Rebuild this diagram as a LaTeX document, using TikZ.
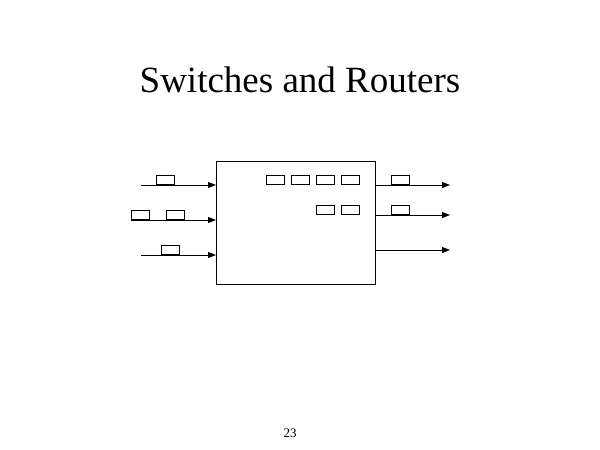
\documentclass[tikz,border=0pt]{standalone}
\usepackage{fontspec}
\setmainfont{Liberation Serif}
\usetikzlibrary{arrows.meta}
\begin{document}
\begin{tikzpicture}[x=1pt,y=-1pt,
  pkt/.style={draw,line width=1pt,minimum width=18pt,minimum height=9pt,inner sep=0pt,anchor=south west},
  link/.style={line width=1pt,-{Triangle[length=8pt,width=6pt]}},
  plain/.style={line width=1pt}]
\useasboundingbox (0,0) rectangle (600,450);
\node[font=\fontsize{37}{44}\selectfont,anchor=base] (title) at (300,92) {Switches and Routers};
\node[font=\fontsize{13}{15}\selectfont,anchor=base] (pnum) at (290,437) {23};
\node[draw,line width=1pt,minimum width=159pt,minimum height=123pt,inner sep=0pt,anchor=north west] (box) at (216,161) {};
% inputs
\coordinate (i1) at (141,185);
\coordinate (i2) at (131,220);
\coordinate (i3) at (141,255);
\draw[link] (i1) -- (i1 -| box.west);
\draw[link] (i2) -- (i2 -| box.west);
\draw[link] (i3) -- (i3 -| box.west);
\node[pkt] (p1) at (156,185) {};
\node[pkt] (p2) at (131,220) {};
\node[pkt] (p3) at (166,220) {};
\node[pkt] (p4) at (161,255) {};
% queued in switch
\node[pkt] (q1) at (266,185) {};
\node[pkt] (q2) at (291,185) {};
\node[pkt] (q3) at (316,185) {};
\node[pkt] (q4) at (341,185) {};
\node[pkt] (q5) at (316,215) {};
\node[pkt] (q6) at (341,215) {};
% outputs
\coordinate (o1) at (450,185);
\coordinate (o2) at (450,215);
\coordinate (o3) at (450,250);
\draw[link] (o1 -| box.east) -- (o1);
\draw[link] (o2 -| box.east) -- (o2);
\draw[link] (o3 -| box.east) -- (o3);
\node[pkt] (r1) at (391,185) {};
\node[pkt] (r2) at (391,215) {};
\end{tikzpicture}
\end{document}
